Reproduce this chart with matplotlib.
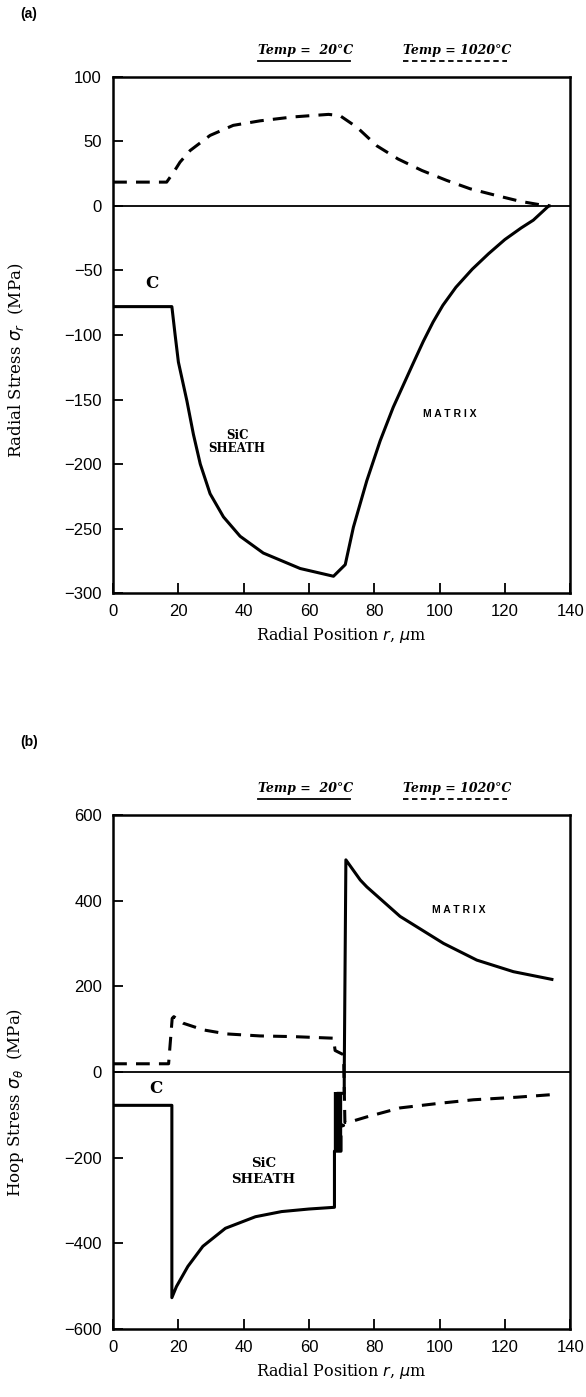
import matplotlib
matplotlib.use("Agg")
import matplotlib.pyplot as plt
from matplotlib.lines import Line2D

# (a) radial stress, MPa, vs radial position, um
a_solid_x = [0, 18, 19, 20, 22.6, 24.6, 26.7, 29.7, 33.8, 38.9, 46, 57.3, 67.5, 71.1, 73.6,
             77.7, 81.8, 85.8, 91.9, 95, 98, 101, 105, 110, 115, 120, 125, 128.7, 133.4]
a_solid_y = [-78, -78, -100, -121, -151, -177, -200, -223, -241, -256, -269, -281, -287, -278,
             -249, -213, -182, -156, -122, -105, -90, -77, -63, -49, -37, -26, -17, -11, 0]
a_dash_x = [0, 16.4, 18.5, 20.5, 23.6, 29.7, 36.8, 45, 55, 60.4, 66, 69.5, 74.7, 80.8, 87.3,
            94.6, 102.2, 109.4, 116.5, 124.7, 131.8, 134]
a_dash_y = [18.5, 18.5, 26, 34, 43, 54.7, 62.5, 66, 69, 70, 71, 70, 61, 46.6, 36.4,
            27.5, 19.8, 13.3, 8.7, 3.6, 0.5, 0]

# (b) hoop stress
b_solid_x = [0, 18, 18, 19.4, 22.9, 27.5, 34.4, 43.6, 51.6, 60, 67.8, 67.8, 69.8, 69.8,
             68.6, 68.6, 70.6, 68.6, 68.6, 70.8, 70.8, 71.3, 75.7, 77.7, 87.9, 101.2,
             111.4, 122.6, 134.4]
b_solid_y = [-78, -78, -527, -501, -454, -407, -365, -338, -326, -320, -316, -185, -185, -150,
             -140, -130, -125, -120, -50, -50, 0, 495, 448, 432, 363, 300,
             261, 234, 216]
# heavy black smear on the interface at r ~ 69 um
b_blob_x = [68.9, 68.9]
b_blob_y = [-48, -185]
b_dash_x = [0, 17, 18.1, 18.6, 21.5, 27.7, 34.8, 45, 55.2, 67.5, 68, 70.6, 71, 72,
            77.7, 87.9, 100.2, 110.4, 123.7, 134.4]
b_dash_y = [19, 19, 125, 129, 113.6, 98, 88.7, 84, 82.4, 78.7, 50, 40, -118, -118,
            -105, -84, -73, -65, -59, -53]

x_ticks = [0, 20, 40, 60, 80, 100, 120, 140]
a_yticks = [100, 50, 0, -50, -100, -150, -200, -250, -300]
b_yticks = [600, 400, 200, 0, -200, -400, -600]

SERIF = "DejaVu Serif"
SANS = "Liberation Sans"

fig = plt.figure(figsize=(5.86, 13.97), dpi=100)
ax_a = fig.add_axes([0.193, 0.5755, 0.780, 0.3694])
ax_b = fig.add_axes([0.193, 0.0487, 0.780, 0.368])


def style(ax, ylim, yticks, ylabel, ylab_y):
    ax.set_xlim(0, 140)
    ax.set_ylim(*ylim)
    ax.set_xticks(x_ticks)
    ax.set_yticks(yticks)
    ax.set_xticklabels([str(t) for t in x_ticks], family=SANS, fontsize=12)
    ax.set_yticklabels([f"{t}".replace("-", "\u2212") for t in yticks], family=SANS, fontsize=12)
    ax.tick_params(direction="in", length=7, width=1.3, pad=8)
    for s in ax.spines.values():
        s.set_linewidth(1.8)
    ax.axhline(0, color="black", lw=1.3)
    ax.set_xlabel(r"Radial Position $\mathit{r}$, $\mu$m", family=SERIF, fontsize=11.5, labelpad=4)
    ax.set_ylabel(ylabel, family=SERIF, fontsize=12)
    ax.yaxis.set_label_coords(-0.19, ylab_y)
    # temperature key above the frame
    ax.text(0.317, 1.038, "Temp =  20°C", transform=ax.transAxes, family=SERIF,
            style="italic", weight="bold", fontsize=9, ha="left", va="bottom")
    ax.text(0.635, 1.038, "Temp = 1020°C", transform=ax.transAxes, family=SERIF,
            style="italic", weight="bold", fontsize=9, ha="left", va="bottom")
    ax.add_line(Line2D([0.317, 0.519], [1.031, 1.031], transform=ax.transAxes,
                       color="black", lw=1.3, clip_on=False))
    ax.add_line(Line2D([0.635, 0.862], [1.031, 1.031], transform=ax.transAxes,
                       color="black", lw=1.3, ls=(0, (3, 2)), clip_on=False))


ax_a.plot(a_solid_x, a_solid_y, color="black", lw=2.2)
ax_a.plot(a_dash_x, a_dash_y, color="black", lw=2.2, dashes=(4.5, 3))
style(ax_a, (-300, 100), a_yticks, r"Radial Stress $\sigma_r$  (MPa)", 0.45)
ax_a.text(12, -60, "C", family=SERIF, weight="bold", fontsize=12, ha="center", va="center")
ax_a.text(38, -183, "SiC\nSHEATH", family=SERIF, weight="bold", fontsize=8.5,
          ha="center", va="center", linespacing=1.0)
ax_a.text(103, -161, "M A T R I X", family=SANS, weight="bold", fontsize=7.5,
          ha="center", va="center")

ax_b.plot(b_solid_x, b_solid_y, color="black", lw=2.2)
ax_b.plot(b_blob_x, b_blob_y, color="black", lw=6, solid_capstyle="butt")
ax_b.plot(b_dash_x, b_dash_y, color="black", lw=2.2, dashes=(4.5, 3))
style(ax_b, (-600, 600), b_yticks, r"Hoop Stress $\sigma_\theta$  (MPa)", 0.44)
ax_b.text(13, -38, "C", family=SERIF, weight="bold", fontsize=12, ha="center", va="center")
ax_b.text(46, -232, "SiC\nSHEATH", family=SERIF, weight="bold", fontsize=9.5,
          ha="center", va="center", linespacing=1.3)
ax_b.text(106, 378, "M A T R I X", family=SANS, weight="bold", fontsize=7.5,
          ha="center", va="center")

fig.text(20 / 586, 1 - 14 / 1397, "(a)", family=SANS, weight="bold", fontsize=10,
         ha="left", va="center")
fig.text(20 / 586, 1 - 742 / 1397, "(b)", family=SANS, weight="bold", fontsize=10,
         ha="left", va="center")

fig.savefig("out.png", dpi=100)
